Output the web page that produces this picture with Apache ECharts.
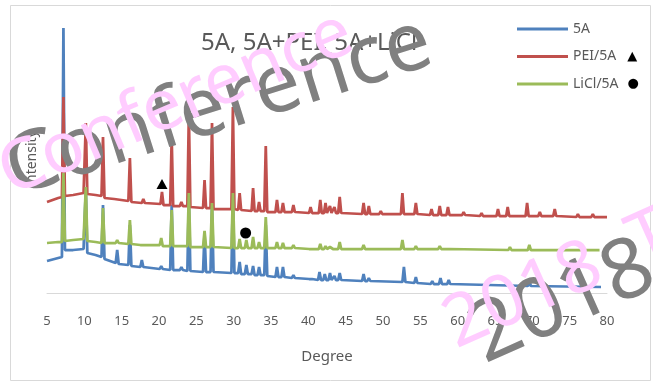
<!DOCTYPE html>
<html>
<head>
<meta charset="utf-8">
<script src="https://cdn.jsdelivr.net/npm/echarts@6/dist/echarts.min.js"></script>
<style>
  html, body { margin: 0; padding: 0; background: #fff; }
  #chart { width: 653px; height: 383px; }
</style>
</head>
<body>
<div id="chart"></div>
<script>
// XRD patterns: [degree, intensity (arbitrary, stacked)]
const xrd5A = [
  [5.0, 32], [6.5, 35], [7.0, 36], [7.2, 265], [7.4, 43], [8.5, 43], [9.9, 44],
  [10.2, 104], [10.4, 40], [11.5, 38], [12.3, 36], [12.5, 88], [12.7, 34],
  [14.2, 30], [14.4, 43], [14.6, 29], [15.9, 28], [16.1, 68], [16.3, 27],
  [17.5, 26], [17.7, 33], [17.9, 26], [20.1, 24], [20.3, 27], [20.5, 24],
  [21.5, 23], [21.7, 88], [21.9, 23], [22.8, 23], [23.0, 26], [23.2, 23],
  [23.8, 22], [24.0, 95], [24.2, 22], [25.9, 21], [26.1, 60], [26.3, 21],
  [26.9, 21], [27.1, 88], [27.3, 21], [29.7, 20], [29.9, 100], [30.1, 20],
  [30.6, 20], [30.8, 31], [31.0, 19], [31.5, 19], [31.7, 28], [31.9, 19],
  [32.4, 19], [32.6, 27], [32.8, 18], [33.2, 18], [33.4, 26], [33.6, 18],
  [34.1, 18], [34.3, 68], [34.5, 17], [35.6, 16], [35.8, 26], [36.0, 16],
  [36.4, 16], [36.6, 26], [36.8, 16], [37.8, 15], [38.0, 18], [38.2, 15],
  [40.1, 14], [40.3, 15], [40.5, 14], [41.3, 13], [41.5, 21], [41.7, 13],
  [42.0, 13], [42.2, 19], [42.4, 13], [42.7, 13], [42.9, 20], [43.1, 13],
  [43.3, 13], [43.5, 17], [43.7, 13], [44.0, 13], [44.2, 20], [44.4, 13],
  [47.2, 12], [47.4, 19], [47.6, 12], [47.9, 12], [48.1, 15], [48.3, 12],
  [52.6, 11], [52.8, 26], [53.0, 11], [54.2, 10], [54.4, 16], [54.6, 10],
  [56.4, 9], [56.6, 12], [56.8, 9], [57.5, 9], [57.7, 15], [57.9, 9],
  [58.6, 9], [58.8, 13], [59.0, 9], [69.4, 7], [69.6, 12], [69.8, 7], [79.2, 6]
];
const xrdPEI = [
  [5.0, 91], [6.5, 95], [7.0, 96], [7.2, 196], [7.4, 97], [8.5, 98], [9.9, 100],
  [10.2, 170], [10.4, 99], [11.5, 98], [12.3, 97], [12.5, 156], [12.7, 95],
  [14.0, 94], [15.9, 92], [16.1, 135], [16.3, 91], [17.7, 90], [17.9, 94],
  [18.1, 90], [20.2, 89], [20.4, 101], [20.6, 88], [21.5, 88], [21.7, 155],
  [21.9, 87], [22.8, 87], [23.0, 91], [23.2, 87], [23.8, 87], [24.0, 180],
  [24.2, 86], [25.9, 85], [26.1, 113], [26.3, 85], [26.9, 85], [27.1, 170],
  [27.3, 84], [29.7, 84], [29.9, 186], [30.1, 84], [30.6, 83], [30.8, 100],
  [31.0, 83], [32.4, 82], [32.6, 105], [32.8, 82], [33.2, 82], [33.4, 91],
  [33.6, 82], [34.1, 82], [34.3, 147], [34.5, 81], [35.6, 81], [35.8, 93],
  [36.0, 81], [36.4, 81], [36.6, 90], [36.8, 81], [37.8, 81], [38.0, 88],
  [38.2, 81], [40.1, 80], [40.3, 86], [40.5, 80], [41.4, 80], [41.6, 93],
  [41.8, 80], [42.1, 80], [42.3, 90], [42.5, 80], [42.7, 80], [42.9, 87],
  [43.1, 80], [43.3, 80], [43.5, 86], [43.7, 80], [44.0, 80], [44.2, 96],
  [44.4, 80], [47.2, 79], [47.4, 90], [47.6, 79], [47.9, 79], [48.1, 87],
  [48.3, 79], [49.5, 79], [49.7, 82], [49.9, 79], [52.4, 79], [52.6, 100],
  [52.8, 79], [54.2, 79], [54.4, 90], [54.6, 79], [56.3, 78], [56.5, 84],
  [56.7, 78], [57.4, 78], [57.6, 87], [57.8, 78], [58.5, 78], [58.7, 86],
  [58.9, 78], [60.6, 78], [60.8, 81], [61.0, 78], [63.0, 77], [63.2, 80],
  [63.4, 77], [65.2, 77], [65.4, 84], [65.6, 77], [66.5, 77], [66.7, 86],
  [66.9, 77], [69.1, 77], [69.3, 90], [69.5, 77], [70.8, 77], [71.0, 81],
  [71.2, 77], [72.8, 77], [73.0, 84], [73.2, 77], [75.9, 76], [76.1, 79],
  [76.3, 76], [77.9, 76], [78.1, 79], [78.3, 76], [80.0, 76]
];
const xrdLiCl = [
  [5.0, 50], [6.5, 51], [7.0, 51], [7.2, 120], [7.4, 52], [8.5, 53], [9.9, 54],
  [10.2, 106], [10.4, 52], [11.5, 51], [12.3, 50], [12.5, 85], [12.7, 50],
  [14.2, 50], [14.4, 53], [14.6, 50], [15.9, 49], [16.1, 73], [16.3, 49],
  [17.5, 48], [17.7, 50], [17.9, 48], [20.1, 48], [20.3, 55], [20.5, 47],
  [21.5, 47], [21.7, 83], [21.9, 47], [22.8, 47], [23.0, 49], [23.2, 47],
  [23.8, 47], [24.0, 100], [24.2, 46], [25.9, 46], [26.1, 62], [26.3, 46],
  [26.9, 46], [27.1, 90], [27.3, 46], [29.7, 45], [29.9, 100], [30.1, 45],
  [30.6, 45], [30.8, 54], [31.0, 45], [31.5, 45], [31.7, 53], [31.9, 45],
  [32.4, 45], [32.6, 56], [32.8, 45], [33.2, 45], [33.4, 51], [33.6, 45],
  [34.1, 45], [34.3, 76], [34.5, 45], [35.6, 45], [35.8, 51], [36.0, 45],
  [36.4, 45], [36.6, 50], [36.8, 45], [37.8, 45], [38.0, 48], [38.2, 45],
  [40.1, 44], [40.3, 46], [40.5, 44], [41.4, 44], [41.6, 49], [41.8, 44],
  [42.1, 44], [42.3, 47], [42.5, 44], [42.7, 44], [42.9, 46], [43.1, 44],
  [43.3, 44], [43.5, 46], [43.7, 44], [44.0, 44], [44.2, 51], [44.4, 44],
  [47.2, 44], [47.4, 48], [47.6, 44], [47.9, 44], [48.1, 46], [48.3, 44],
  [52.4, 44], [52.6, 53], [52.8, 44], [54.2, 44], [54.4, 47], [54.6, 44],
  [56.3, 44], [56.5, 45], [56.7, 44], [57.4, 44], [57.6, 47], [57.8, 44],
  [58.5, 44], [58.7, 46], [58.9, 44], [66.8, 43], [67.0, 46], [67.2, 43],
  [69.4, 43], [69.6, 48], [69.8, 43], [71.2, 43], [71.4, 45], [71.6, 43],
  [73.1, 43], [73.3, 45], [73.5, 43], [79.0, 43]
];
// marks placed in the plot
const triangleMark = [20.4, 109];
const circleMark = [31.6, 60];

const seriesNames = ['5A', 'PEI/5A', 'LiCl/5A'];
const seriesColors = ['#4F81BD', '#C0504D', '#9BBB59'];

const chart = echarts.init(document.getElementById('chart'), null, { renderer: 'canvas' });

const font = 'Noto Sans';
const grey = '#595959';

const option = {
  animation: false,
  backgroundColor: '#fff',
  title: {
    text: '5A, 5A+PEI, 5A+LiCl',
    left: 196,
    top: 26,
    textStyle: { fontFamily: font, fontSize: 24, fontWeight: 'normal', color: grey }
  },
  legend: {
    orient: 'vertical',
    left: 517,
    top: 22,
    padding: 0,
    itemGap: 13.5,
    itemWidth: 51,
    itemHeight: 3,
    icon: 'rect',
    data: seriesNames,
    formatter: function (name) {
      if (name === 'PEI/5A') return '{t|' + name + '}{a|▲}';
      if (name === 'LiCl/5A') return '{t|' + name + '}{b|●}';
      return '{t|' + name + '}';
    },
    textStyle: {
      fontFamily: font, fontSize: 14, color: grey,
      rich: {
        t: { fontFamily: font, fontSize: 14, color: grey, lineHeight: 18 },
        a: { fontFamily: 'DejaVu Sans', fontSize: 13, color: '#000', lineHeight: 18, padding: [0, 0, 0, 11] },
        b: { fontFamily: 'DejaVu Sans', fontSize: 13, color: '#000', lineHeight: 18, padding: [0, 0, 0, 9] }
      }
    }
  },
  grid: { left: 47, right: 46, top: 25, bottom: 90 },
  xAxis: {
    type: 'value',
    min: 5,
    max: 80,
    interval: 5,
    name: 'Degree',
    nameLocation: 'middle',
    nameGap: 56,
    nameTextStyle: { fontFamily: font, fontSize: 15, color: grey },
    axisLine: { lineStyle: { color: '#D9D9D9', width: 1 } },
    axisTick: { show: false },
    axisLabel: { fontFamily: font, fontSize: 13, color: grey, margin: 22 },
    splitLine: { show: false }
  },
  yAxis: {
    type: 'value',
    min: 0,
    max: 268,
    name: 'Intensity',
    nameLocation: 'middle',
    nameGap: 8,
    nameTextStyle: { fontFamily: font, fontSize: 14, color: grey },
    axisLine: { show: false },
    axisTick: { show: false },
    axisLabel: { show: false },
    splitLine: { show: false }
  },
  series: [
    {
      name: seriesNames[0], type: 'line', data: xrd5A,
      showSymbol: false, symbol: 'none', color: seriesColors[0],
      lineStyle: { width: 2.75, color: seriesColors[0] }
    },
    {
      name: seriesNames[1], type: 'line', data: xrdPEI,
      showSymbol: false, symbol: 'none', color: seriesColors[1],
      lineStyle: { width: 2.75, color: seriesColors[1] },
      markPoint: {
        symbol: 'triangle', symbolSize: [11, 10], silent: true,
        itemStyle: { color: '#000' }, label: { show: false },
        data: [{ coord: triangleMark }]
      }
    },
    {
      name: seriesNames[2], type: 'line', data: xrdLiCl,
      showSymbol: false, symbol: 'none', color: seriesColors[2],
      lineStyle: { width: 2.75, color: seriesColors[2] },
      markPoint: {
        symbol: 'circle', symbolSize: 11, silent: true,
        itemStyle: { color: '#000' }, label: { show: false },
        data: [{ coord: circleMark }]
      }
    }
  ],
  graphic: [
    {
      type: 'rect', silent: true, z: 100,
      shape: { x: 10.5, y: 5.5, width: 640, height: 375 },
      style: { fill: 'none', stroke: '#D9D9D9', lineWidth: 1 }
    },
    {
      type: 'text', silent: true, z: 101, x: 219, y: 107, rotation: 0.305,
      style: { text: 'Conference', fontFamily: font, fontSize: 82, fill: '#808080',
               align: 'center', verticalAlign: 'middle' }
    },
    {
      type: 'text', silent: true, z: 102, x: 176, y: 104, rotation: 0.40,
      style: { text: 'Conference', fontFamily: font, fontSize: 70, fill: '#FFCCFF',
               align: 'center', verticalAlign: 'middle' }
    },
    {
      type: 'text', silent: true, z: 101, x: 475, y: 342, rotation: 0.42,
      style: { text: '2018 T', fontFamily: font, fontSize: 84, fill: '#808080',
               align: 'left', verticalAlign: 'middle' }
    },
    {
      type: 'text', silent: true, z: 102, x: 448, y: 330, rotation: 0.42,
      style: { text: '2018  T', fontFamily: font, fontSize: 72, fill: '#FFCCFF',
               align: 'left', verticalAlign: 'middle' }
    }
  ]
};

chart.setOption(option);
</script>
</body>
</html>
